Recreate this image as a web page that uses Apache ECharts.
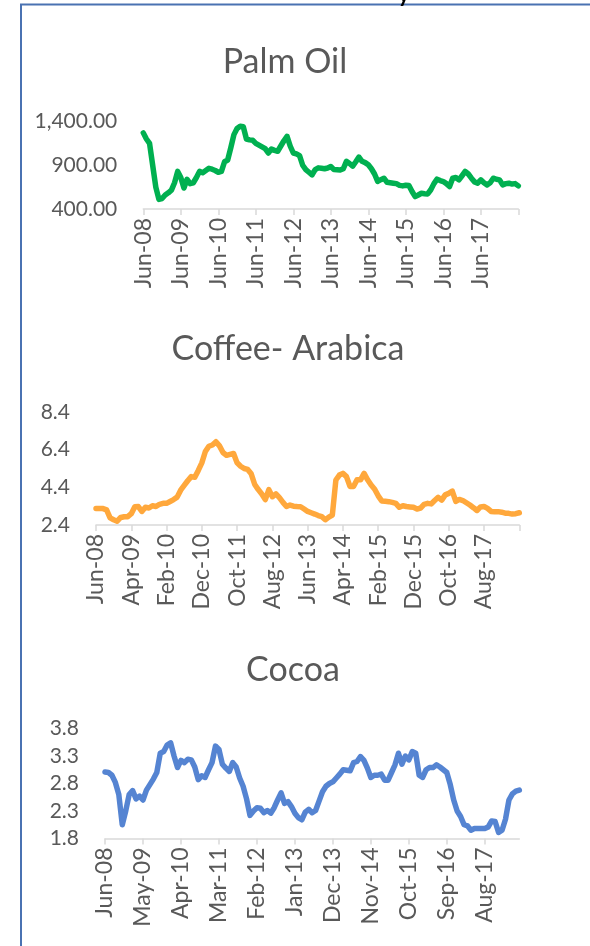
<!DOCTYPE html>
<html>
<head>
<meta charset="utf-8">
<script src="https://cdn.jsdelivr.net/npm/echarts@6/dist/echarts.min.js"></script>
<style>
  html, body { margin: 0; padding: 0; background: #ffffff; }
  #chart { width: 590px; height: 946px; }
</style>
</head>
<body>
<div id="chart"></div>
<script>
// Monthly prices, Jun-2008 through Jun-2018 (121 months)
const START_YEAR = 2008;
const START_MONTH = 5; // June (0-based)
const MONTH_NAMES = ['Jan','Feb','Mar','Apr','May','Jun','Jul','Aug','Sep','Oct','Nov','Dec'];

const palmOil = [
  1270, 1200, 1150, 900, 650, 510, 520, 560, 585, 615, 700, 830,
  760, 640, 740, 690, 700, 760, 830, 815, 840, 865, 855, 840,
  820, 830, 940, 960, 1100, 1250, 1320, 1346, 1340, 1200, 1190, 1185,
  1150, 1130, 1110, 1090, 1040, 1085, 1070, 1060, 1120, 1180, 1231, 1120,
  1040, 1030, 1010, 900, 850, 820, 790, 850, 870, 865, 860, 868,
  885, 850, 848, 845, 860, 944, 920, 890, 940, 994, 945, 930,
  905, 860, 800, 715, 735, 752, 705, 700, 695, 690, 670, 664,
  672, 668, 600, 542, 560, 580, 575, 572, 620, 690, 741, 725,
  714, 690, 657, 752, 760, 733, 780, 829, 800, 752, 710, 695,
  733, 700, 676, 700, 752, 740, 733, 676, 690, 695, 685, 690,
  664
];

const coffeeArabica = [
  3.28, 3.28, 3.27, 3.2, 2.78, 2.68, 2.6, 2.8, 2.84, 2.84, 3.0, 3.37,
  3.38, 3.12, 3.34, 3.3, 3.42, 3.38, 3.5, 3.55, 3.55, 3.65, 3.75, 3.88,
  4.25, 4.5, 4.75, 4.97, 4.93, 5.3, 5.7, 6.3, 6.58, 6.65, 6.82, 6.6,
  6.25, 6.1, 6.15, 6.2, 5.7, 5.52, 5.4, 5.35, 5.12, 4.55, 4.28, 4.05,
  3.75, 4.28, 3.9, 4.05, 3.85, 3.6, 3.38, 3.46, 3.4, 3.38, 3.37, 3.25,
  3.12, 3.05, 2.98, 2.9, 2.84, 2.68, 2.82, 2.93, 4.79, 5.05, 5.14, 4.97,
  4.45, 4.44, 4.8, 4.8, 5.14, 4.8, 4.52, 4.3, 3.95, 3.68, 3.66, 3.64,
  3.6, 3.55, 3.34, 3.42, 3.38, 3.36, 3.34, 3.25, 3.3, 3.5, 3.55, 3.52,
  3.7, 3.87, 3.72, 4.0, 4.08, 4.2, 3.65, 3.76, 3.7, 3.58, 3.46, 3.32,
  3.17, 3.36, 3.38, 3.28, 3.12, 3.1, 3.11, 3.08, 3.03, 3.02, 2.98, 3.0,
  3.05
];

const cocoa = [
  3.01, 3.0, 2.95, 2.82, 2.6, 2.05, 2.3, 2.6, 2.67, 2.52, 2.57, 2.5,
  2.68, 2.78, 2.88, 3.0, 3.35, 3.38, 3.5, 3.54, 3.3, 3.09, 3.22, 3.18,
  3.24, 3.23, 3.1, 2.87, 2.94, 2.91, 3.05, 3.18, 3.48, 3.42, 3.15, 3.08,
  3.02, 3.18, 3.1, 2.9, 2.75, 2.52, 2.22, 2.3, 2.36, 2.35, 2.27, 2.31,
  2.26, 2.36, 2.5, 2.63, 2.44, 2.47, 2.38, 2.26, 2.18, 2.14, 2.28, 2.33,
  2.27, 2.31, 2.48, 2.65, 2.75, 2.8, 2.83, 2.9, 2.97, 3.05, 3.04, 3.03,
  3.18, 3.2, 3.29, 3.22, 3.08, 2.91, 2.95, 2.95, 2.97, 2.86, 2.86, 3.0,
  3.14, 3.35, 3.15, 3.3, 3.23, 3.38, 3.35, 2.95, 2.91, 3.05, 3.09, 3.09,
  3.14, 3.1, 3.05, 3.0, 2.78, 2.5, 2.3, 2.2, 2.05, 2.03, 1.95, 1.98,
  1.98, 1.98, 1.98, 2.01, 2.12, 2.11, 1.91, 1.95, 2.15, 2.5, 2.61, 2.66,
  2.68
];

// Month labels such as "Jun-08"
const months = palmOil.map((_, i) => {
  const m = (START_MONTH + i) % 12;
  const y = START_YEAR + Math.floor((START_MONTH + i) / 12);
  return MONTH_NAMES[m] + '-' + String(y % 100).padStart(2, '0');
});

// Axis settings per panel
const palmAxis = { min: 400, max: 1400, step: 500, labelEvery: 12 };
const coffeeAxis = { min: 2.4, max: 8.4, step: 2, labelEvery: 10 };
const cocoaAxis = { min: 1.8, max: 3.8, step: 0.5, labelEvery: 11 };

const FONT = 'Lato';
const TEXT_COLOR = '#595959';
const AXIS_COLOR = '#d9d9d9';
const LAST = months.length - 1;

function xAxisFor(gridIndex, every) {
  return {
    type: 'category',
    gridIndex,
    data: months,
    boundaryGap: false,
    axisLine: { lineStyle: { color: AXIS_COLOR, width: 1.5 } },
    axisTick: {
      show: true,
      length: 6,
      interval: (i) => i % every === 0,
      lineStyle: { color: AXIS_COLOR, width: 1.5 }
    },
    axisLabel: {
      rotate: 90,
      margin: 9,
      interval: (i) => i % every === 0 && i !== LAST,
      color: TEXT_COLOR,
      fontFamily: FONT,
      fontSize: 23
    },
    splitLine: { show: false }
  };
}

function yAxisFor(gridIndex, ax, fmt) {
  return {
    type: 'value',
    gridIndex,
    min: ax.min,
    max: ax.max,
    interval: ax.step,
    axisLine: { show: false },
    axisTick: { show: false },
    splitLine: { show: false },
    axisLabel: {
      margin: 26,
      color: TEXT_COLOR,
      fontFamily: FONT,
      fontSize: 21,
      formatter: fmt
    }
  };
}

function lineSeries(idx, data, color) {
  return {
    type: 'line',
    xAxisIndex: idx,
    yAxisIndex: idx,
    data,
    showSymbol: false,
    symbol: 'none',
    smooth: false,
    lineStyle: { color, width: 5.5, cap: 'round', join: 'round' },
    silent: true
  };
}

const chart = echarts.init(document.getElementById('chart'), null, { renderer: 'canvas' });

chart.setOption({
  backgroundColor: '#ffffff',
  animation: false,
  grid: [
    { left: 143.3, right: 71.7, top: 121.5, height: 87.5 },
    { left: 96, right: 70.7, top: 412, height: 113 },
    { left: 105, right: 70.7, top: 728.5, height: 110 }
  ],
  xAxis: [
    xAxisFor(0, palmAxis.labelEvery),
    xAxisFor(1, coffeeAxis.labelEvery),
    xAxisFor(2, cocoaAxis.labelEvery)
  ],
  yAxis: [
    yAxisFor(0, palmAxis, (v) => v.toLocaleString('en-US', { minimumFractionDigits: 2, maximumFractionDigits: 2 })),
    yAxisFor(1, coffeeAxis, (v) => v.toFixed(1)),
    yAxisFor(2, cocoaAxis, (v) => v.toFixed(1))
  ],
  series: [
    lineSeries(0, palmOil, '#00b050'),
    lineSeries(1, coffeeArabica, '#ffa83c'),
    lineSeries(2, cocoa, '#5584d2')
  ],
  graphic: [
    // outer frame (left and top edges)
    { type: 'line', shape: { x1: 21, y1: 4.5, x2: 21, y2: 946 }, style: { stroke: '#4a72b2', lineWidth: 2 } },
    { type: 'line', shape: { x1: 20, y1: 4.5, x2: 590, y2: 4.5 }, style: { stroke: '#4a72b2', lineWidth: 2 } },
    // tail of the heading above the frame
    { type: 'text', style: { text: 'y', x: 398, y: 6, textVerticalAlign: 'bottom', fill: '#000000', font: 'bold 22px ' + FONT } },
    // panel titles
    { type: 'text', style: { text: 'Palm Oil', x: 285, y: 62, textAlign: 'center', textVerticalAlign: 'middle', fill: TEXT_COLOR, font: '34px ' + FONT } },
    { type: 'text', style: { text: 'Coffee- Arabica', x: 288, y: 349, textAlign: 'center', textVerticalAlign: 'middle', fill: TEXT_COLOR, font: '34px ' + FONT } },
    { type: 'text', style: { text: 'Cocoa', x: 293, y: 670, textAlign: 'center', textVerticalAlign: 'middle', fill: TEXT_COLOR, font: '34px ' + FONT } }
  ]
});
</script>
</body>
</html>
